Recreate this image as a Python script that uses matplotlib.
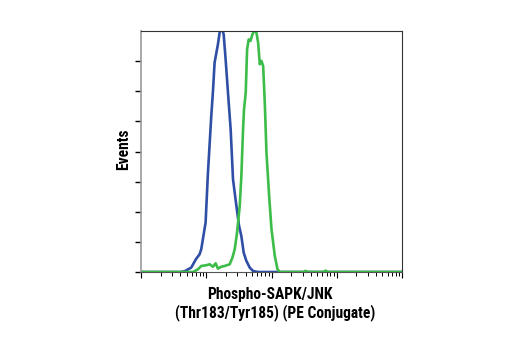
import matplotlib
matplotlib.use("Agg")
import matplotlib.pyplot as plt
import numpy as np
from matplotlib.ticker import LogLocator, NullFormatter, FixedLocator

# Blue (control) histogram: log10 intensity, % of max
blue_log = [0.0, 0.60, 0.667, 0.769, 0.846, 0.897, 0.923, 0.990, 1.026, 1.077, 1.103, 1.128,
            1.179, 1.205, 1.231, 1.267, 1.297, 1.333, 1.374, 1.410, 1.462, 1.503,
            1.538, 1.574, 1.615, 1.667, 1.718, 1.795, 4.0]
blue_pct = [0, 0, 0.3, 1.8, 5.5, 7.3, 9.4, 20.5, 41.2, 64.7, 75.1, 86.9,
            94.5, 99.3, 102, 98.6, 88.2, 74.4, 59.2, 38.5, 27.4, 19.1,
            14.9, 8.0, 4.6, 1.8, 0.4, 0, 0]

# Green (treated) histogram
green_log = [0.0, 0.80, 0.872, 0.923, 1.0, 1.051, 1.103, 1.144, 1.179, 1.231, 1.282, 1.359,
             1.4, 1.436, 1.472, 1.513, 1.538, 1.564, 1.579, 1.605, 1.626, 1.651,
             1.677, 1.708, 1.744, 1.769, 1.795, 1.821, 1.846, 1.872, 1.897, 1.923,
             1.964, 2.0, 2.051, 2.092, 2.128, 2.50, 2.52, 2.55, 2.80, 2.83, 2.86, 4.0]
green_pct = [0, 0, 1.1, 2.5, 2.8, 3.2, 2.2, 3.6, 1.4, 2.2, 2.5, 3.2,
             5.9, 9.4, 16.3, 27.4, 39.8, 59.2, 67.5, 74.4, 92.4, 96.5,
             95.9, 98.6, 100.5, 99.3, 95.2, 86.2, 87.6, 85.5, 70.3, 49.5,
             31.5, 17.7, 6.6, 1.1, 0, 0, 0.5, 0, 0, 0.6, 0, 0]

xlabel_lines = ["Phospho-SAPK/JNK", "(Thr183/Tyr185) (PE Conjugate)"]
ylabel = "Events"

fig = plt.figure(figsize=(5.2, 3.5), dpi=100)
ax = fig.add_axes([141/520, 1 - 272/350, 261/520, 241/350])

ax.plot(10 ** np.array(blue_log), blue_pct, color="#2f4fa6", lw=1.9, solid_joinstyle="round")
ax.plot(10 ** np.array(green_log), green_pct, color="#3cbc48", lw=1.9, solid_joinstyle="round")

ax.set_xscale("log")
ax.set_xlim(1, 1e4)
ax.set_ylim(0, 100)

ax.xaxis.set_major_locator(LogLocator(base=10, numticks=10))
ax.xaxis.set_minor_locator(LogLocator(base=10, subs=np.arange(2, 10), numticks=10))
ax.xaxis.set_major_formatter(NullFormatter())
ax.xaxis.set_minor_formatter(NullFormatter())
ax.yaxis.set_major_locator(FixedLocator(np.arange(0, 100, 12.5)))
ax.set_yticklabels([])

ax.tick_params(axis="x", which="major", length=4, width=0.8, color="black", direction="out")
ax.tick_params(axis="x", which="minor", length=3, width=0.7, color="black", direction="out")
ax.tick_params(axis="y", which="major", length=4, width=1.0, color="black", direction="out")

for side in ["top", "right"]:
    ax.spines[side].set_color("#333333")
    ax.spines[side].set_linewidth(0.8)
ax.spines["left"].set_color("#999999")
ax.spines["left"].set_linewidth(1.2)
ax.spines["bottom"].set_color("#555555")
ax.spines["bottom"].set_linewidth(0.8)

fam = ["Roboto Condensed", "DejaVu Sans"]
fig.text(124/520, 1 - 149/350, ylabel, rotation=90, ha="center", va="center",
         fontsize=11.2, fontweight="bold", family=fam)
fig.text(270/520, 1 - 298.5/350, xlabel_lines[0], ha="center", va="baseline",
         fontsize=11.2, fontweight="bold", family=fam)
fig.text(275/520, 1 - 317.5/350, xlabel_lines[1], ha="center", va="baseline",
         fontsize=11.2, fontweight="bold", family=fam)

fig.savefig("out.png", dpi=100)
